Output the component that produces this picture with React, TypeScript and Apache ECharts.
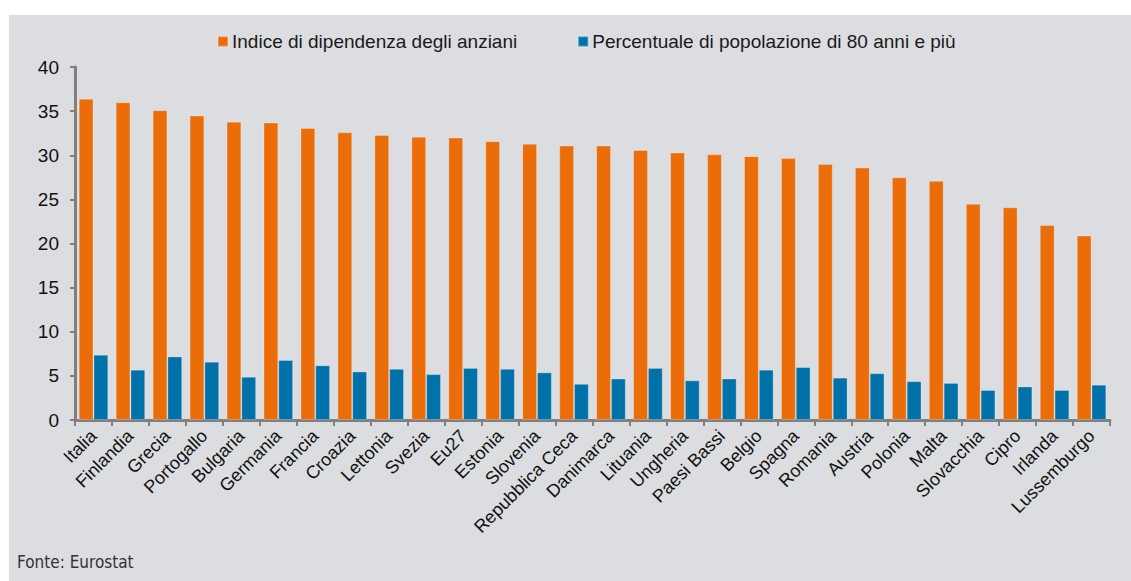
import React, { useEffect, useRef } from "react";
import * as echarts from "echarts";

const categories = [
  "Italia", "Finlandia", "Grecia", "Portogallo", "Bulgaria", "Germania", "Francia",
  "Croazia", "Lettonia", "Svezia", "Eu27", "Estonia", "Slovenia", "Repubblica Ceca",
  "Danimarca", "Lituania", "Ungheria", "Paesi Bassi", "Belgio", "Spagna", "Romania",
  "Austria", "Polonia", "Malta", "Slovacchia", "Cipro", "Irlanda", "Lussemburgo",
];
const dependencyIndex = [
  36.4, 36.0, 35.1, 34.5, 33.8, 33.7, 33.1, 32.6, 32.3, 32.1, 32.0, 31.6, 31.3, 31.1,
  31.1, 30.6, 30.3, 30.1, 29.9, 29.7, 29.0, 28.6, 27.5, 27.1, 24.5, 24.1, 22.1, 20.9,
];
const over80Share = [
  7.4, 5.7, 7.2, 6.6, 4.9, 6.8, 6.2, 5.5, 5.8, 5.2, 5.9, 5.8, 5.4, 4.1,
  4.7, 5.9, 4.5, 4.7, 5.7, 6.0, 4.8, 5.3, 4.4, 4.2, 3.4, 3.8, 3.4, 4.0,
];
const seriesNames = ["Indice di dipendenza degli anziani", "Percentuale di popolazione di 80 anni e più"];
const sourceNote = "Fonte: Eurostat";

const FONT = "'Liberation Sans', Arial, Helvetica, sans-serif";

export default function App() {
  const ref = useRef<HTMLDivElement>(null);
  useEffect(() => {
    if (!ref.current) return;
    const chart = echarts.init(ref.current, null, { renderer: "svg" });
    chart.setOption({
      animation: false,
      backgroundColor: "#ffffff",
      textStyle: { fontFamily: FONT },
      graphic: [
        {
          type: "rect",
          z: -10,
          silent: true,
          shape: { x: 9, y: 15, width: 1131, height: 581 },
          style: { fill: "#dcdde0" },
        },
        {
          type: "text",
          left: 17,
          top: 553,
          style: {
            text: sourceNote,
            fill: "#333333",
            font: "17px 'Liberation Sans Narrow', 'DejaVu Sans Condensed', Arial, sans-serif",
          },
        },
      ],
      legend: {
        left: 217,
        top: 32,
        padding: 0,
        itemWidth: 10,
        itemHeight: 10,
        itemGap: 60,
        icon: "rect",
        textStyle: { fontSize: 19, color: "#1a1a1a", fontFamily: FONT, padding: [0, 0, 0, -1] },
        data: seriesNames,
      },
      grid: { left: 75, right: 21, top: 67, bottom: 161, containLabel: false },
      xAxis: {
        type: "category",
        data: categories,
        axisLine: { lineStyle: { color: "#808080", width: 3 } },
        axisTick: { show: true, length: 6, lineStyle: { color: "#808080", width: 2 }, alignWithLabel: false },
        axisLabel: {
          rotate: 45,
          interval: 0,
          margin: 13,
          fontSize: 18,
          color: "#111111",
          fontFamily: FONT,
        },
      },
      yAxis: {
        type: "value",
        min: 0,
        max: 40,
        interval: 5,
        splitLine: { show: false },
        axisLine: { show: true, lineStyle: { color: "#808080", width: 3 } },
        axisTick: { show: true, length: 5, lineStyle: { color: "#808080", width: 2 } },
        axisLabel: { fontSize: 19, color: "#111111", margin: 16, fontFamily: FONT },
      },
      series: [
        {
          name: seriesNames[0],
          type: "bar",
          data: dependencyIndex,
          barGap: "0%",
          barCategoryGap: "20%",
          itemStyle: { color: "#eb6d09", borderColor: "rgba(255,255,255,0.25)", borderWidth: 1 },
        },
        {
          name: seriesNames[1],
          type: "bar",
          data: over80Share,
          barGap: "0%",
          barCategoryGap: "20%",
          itemStyle: { color: "#0071a9", borderColor: "rgba(255,255,255,0.25)", borderWidth: 1 },
        },
      ],
    });
    return () => chart.dispose();
  }, []);
  return (
    <div
      ref={ref}
      style={{ position: "fixed", left: 0, top: 0, width: 1131, height: 581 }}
    />
  );
}
